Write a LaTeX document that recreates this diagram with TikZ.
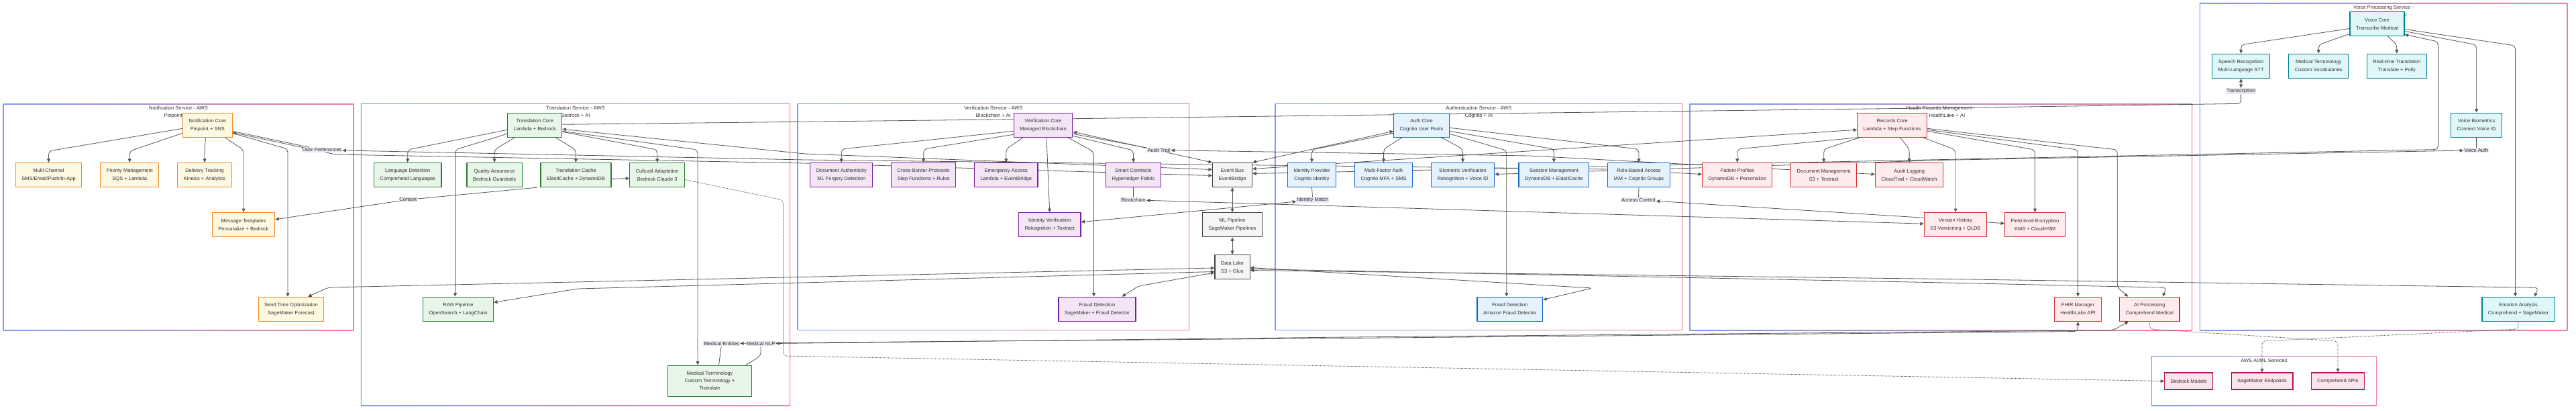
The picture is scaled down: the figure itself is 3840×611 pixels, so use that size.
\documentclass[tikz,border=0pt]{standalone}
\usepackage{fontspec}
\setmainfont{Liberation Sans}
\usepackage{tikz}
\usetikzlibrary{positioning, arrows.meta}
\definecolor{txt}{HTML}{333333}
\definecolor{edgecol}{HTML}{555555}
\definecolor{lblbg}{HTML}{E8E8F0}
\definecolor{clblue}{HTML}{7C9CF2}
\definecolor{clpink}{HTML}{F0809A}
\definecolor{notifdraw}{HTML}{F28C28}
\definecolor{notiffill}{HTML}{FFF8E1}
\definecolor{transdraw}{HTML}{2E7D32}
\definecolor{transfill}{HTML}{E8F5E9}
\definecolor{verifdraw}{HTML}{7B1FA2}
\definecolor{veriffill}{HTML}{F3E5F5}
\definecolor{shareddraw}{HTML}{424242}
\definecolor{sharedfill}{HTML}{F5F5F5}
\definecolor{authdraw}{HTML}{1565C0}
\definecolor{authfill}{HTML}{E3F2FD}
\definecolor{healthdraw}{HTML}{D32F2F}
\definecolor{healthfill}{HTML}{FFEBEE}
\definecolor{voicedraw}{HTML}{00838F}
\definecolor{voicefill}{HTML}{E0F7FA}
\definecolor{aimldraw}{HTML}{AD1457}
\definecolor{aimlfill}{HTML}{FCE4EC}
\pgfdeclarelayer{back}
\pgfdeclarelayer{edges}
\pgfsetlayers{back,edges,main}

\begin{document}
\begin{tikzpicture}[x=1pt, y=-1pt, >={Triangle[length=5.5pt,width=5pt]},
    box/.style={rectangle, draw, line width=1.2pt, align=center, text=txt,
      inner xsep=9pt, inner ysep=8pt, minimum height=36pt, font={\fontsize{7.5}{12}\selectfont}},
    notif/.style={box, draw=notifdraw, fill=notiffill},
    trans/.style={box, draw=transdraw, fill=transfill},
    verif/.style={box, draw=verifdraw, fill=veriffill},
    shared/.style={box, draw=shareddraw, fill=sharedfill},
    auth/.style={box, draw=authdraw, fill=authfill},
    health/.style={box, draw=healthdraw, fill=healthfill},
    voice/.style={box, draw=voicedraw, fill=voicefill},
    aiml/.style={box, draw=aimldraw, fill=aimlfill, minimum height=25pt},
    elabel/.style={fill=lblbg, text=txt, inner sep=1pt, font={\fontsize{7.5}{9}\selectfont}},
    ctitle/.style={align=center, text=txt, inner sep=0pt, anchor=north, font={\fontsize{7.5}{11}\selectfont}},
    flow/.style={draw=edgecol, line width=0.8pt, rounded corners=5pt, ->},
    biflow/.style={flow, <->},
    dotflow/.style={flow, dash pattern=on 1pt off 1pt}]

\begin{pgfonlayer}{back}
\fill[white] (0,0) rectangle (3840,611);
\foreach \xa/\ya/\xb/\yb in {4.6/154.3/527.5/492, 537.8/154/1178/604.3, 1188.7/154/1773/491.7,
    1900.7/154/2508/491.7, 2518.3/154.3/3268/492, 3278.9/4.3/3827.4/492, 3207/530/3542.7/604.3}{
  \shade[left color=clblue, right color=clpink] (\xa,\ya) rectangle (\xb,\yb);
  \fill[white] (\xa+1.2,\ya+1.2) rectangle (\xb-1.2,\yb-1.2);
}
\node[ctitle] (tNotif) at (266,158.1) {Notification Service - AWS\\Pinpoint + AI};
\node[ctitle] (tTrans) at (857.9,157.8) {Translation Service - AWS\\Bedrock + AI};
\node[ctitle] (tVerif) at (1480.9,157.8) {Verification Service - AWS\\Blockchain + AI};
\node[ctitle] (tAuth) at (2204.4,157.8) {Authentication Service - AWS\\Cognito + AI};
\node[ctitle] (tHealth) at (2893,158.1) {Health Records Management -\\AWS HealthLake + AI};
\node[ctitle] (tVoice) at (3553,8.1) {Voice Processing Service -\\AWS Transcribe + AI};
\node[ctitle] (tAiml) at (3374.9,533.8) {AWS AI/ML Services};
\end{pgfonlayer}

\node[notif] (nc) at (309.4,186.3) {Notification Core\\Pinpoint + SNS};
\node[notif] (mc) at (72.5,260.5) {Multi-Channel\\SMS/Email/Push/In-App};
\node[notif, right=26.7pt of mc] (pm) {Priority Management\\SQS + Lambda};
\node[notif, right=26.7pt of pm] (dt) {Delivery Tracking\\Kinesis + Analytics};
\node[notif] (mt) at (363,334.7) {Message Templates\\Personalize + Bedrock};
\node[notif] (st) at (434,460.3) {Send Time Optimization\\SageMaker Forecast};

\node[trans] (tc) at (797.2,186.3) {Translation Core\\Lambda + Bedrock};
\node[trans] (ld) at (607.7,260.5) {Language Detection\\Comprehend Languages};
\node[trans] (qa) at (737,260.5) {Quality Assurance\\Bedrock Guardrails};
\node[trans, right=26.7pt of qa] (cache) {Translation Cache\\ElastiCache + DynamoDB};
\node[trans, right=26.7pt of cache] (ca) {Cultural Adaptation\\Bedrock Claude 3};
\node[trans] (rag) at (683,460.3) {RAG Pipeline\\OpenSearch + LangChain};
\node[trans, minimum width=125.6pt, inner ysep=9.3pt, font={\fontsize{7.5}{11}\selectfont}] (mtm) at (1058,567.2) {Medical Terminology\\Custom Terminology +\\Translate};

\node[verif] (vc) at (1555,186.3) {Verification Core\\Managed Blockchain};
\node[verif] (da) at (1254.3,260.5) {Document Authenticity\\ML Forgery Detection};
\node[verif, right=26.7pt of da] (cb) {Cross-Border Protocols\\Step Functions + Rules};
\node[verif, right=26.7pt of cb] (ea) {Emergency Access\\Lambda + EventBridge};
\node[verif] (sc) at (1689.5,260.5) {Smart Contracts\\Hyperledger Fabric};
\node[verif] (iv) at (1564.7,334.7) {Identity Verification\\Rekognition + Textract};
\node[verif] (fdv) at (1635.5,460.3) {Fraud Detection\\SageMaker + Fraud Detector};

\node[shared] (eb) at (1837,260.5) {Event Bus\\EventBridge};
\node[shared] (ml) at (1837,334.7) {ML Pipeline\\SageMaker Pipelines};
\node[shared] (dl) at (1837,397.5) {Data Lake\\S3 + Glue};

\node[auth] (ac) at (2119,186.3) {Auth Core\\Cognito User Pools};
\node[auth] (idp) at (1955.5,260.5) {Identity Provider\\Cognito Identity};
\node[auth, right=26.7pt of idp] (mfa) {Multi-Factor Auth\\Cognito MFA + SMS};
\node[auth, right=26.7pt of mfa] (bio) {Biometric Verification\\Rekognition + Voice ID};
\node[auth] (sm) at (2316.4,260.5) {Session Management\\DynamoDB + ElastiCache};
\node[auth, right=26.7pt of sm] (rbac) {Role-Based Access\\IAM + Cognito Groups};
\node[auth] (fda) at (2250.8,460.3) {Fraud Detection\\Amazon Fraud Detector};

\node[health] (rc) at (2820.7,186.3) {Records Core\\Lambda + Step Functions};
\node[health] (pp) at (2589.7,260.5) {Patient Profiles\\DynamoDB + Personalize};
\node[health, right=26.7pt of pp] (dm) {Document Management\\S3 + Textract};
\node[health, right=26.7pt of dm] (al) {Audit Logging\\CloudTrail + CloudWatch};
\node[health] (vh) at (2915,334.7) {Version History\\S3 Versioning + QLDB};
\node[health] (fe) at (3033.5,334.7) {Field-level Encryption\\KMS + CloudHSM};
\node[health] (fhir) at (3097.5,460.3) {FHIR Manager\\HealthLake API};
\node[health] (aip) at (3204.3,460.3) {AI Processing\\Comprehend Medical};

\node[voice] (vo) at (3543.5,35.5) {Voice Core\\Transcribe Medical};
\node[voice] (sr) at (3340.6,98.3) {Speech Recognition\\Multi-Language STT};
\node[voice, right=27pt of sr] (mv) {Medical Terminology\\Custom Vocabularies};
\node[voice, right=26.5pt of mv] (rt) {Real-time Translation\\Translate + Polly};
\node[voice] (vb) at (3691.6,186.3) {Voice Biometrics\\Connect Voice ID};
\node[voice] (emo) at (3754,460.3) {Emotion Analysis\\Comprehend + SageMaker};

\node[aiml] (bm) at (3262.7,567.5) {Bedrock Models};
\node[aiml, right=26.3pt of bm] (sme) {SageMaker Endpoints};
\node[aiml, right=26.3pt of sme] (cap) {Comprehend APIs};

\node[elabel] (lUP) at (480,223.3) {User Preferences};
\node[elabel] (lCtx) at (608.4,297.3) {Context};
\node[elabel] (lAT) at (1727.4,223.5) {Audit Trail};
\node[elabel] (lBC) at (1689.5,297.7) {Blockchain};
\node[elabel] (lIM) at (1956.8,297.7) {Identity Match};
\node[elabel] (lAC) at (2442.4,297.7) {Access Control};
\node[elabel] (lME) at (1075.7,511.7) {Medical Entities};
\node[elabel] (lNLP) at (1134,511.7) {Medical NLP};
\node[elabel] (lTr) at (3340.6,135.7) {Transcription};
\node[elabel] (lVA) at (3691.3,223.7) {Voice Auth};

\begin{pgfonlayer}{edges}
\draw[flow] ([yshift=-5pt]nc.west) -- (mc.north |- 0,225) -- (mc.north);
\draw[flow] ([yshift=-12pt]nc.west) -- (pm.north |- 0,225) -- (pm.north);
\draw[flow] ([xshift=-3pt]nc.south) -- (dt.north |- 0,225) -- (dt.north);
\draw[flow] ([xshift=26pt]nc.south) -- (mt.north |- 0,223) -- (mt.north);
\draw[flow] ([yshift=-12pt]nc.east) -- ([xshift=-5pt]st.north |- 0,222) -- ([xshift=-5pt]st.north);
\draw[biflow] ([yshift=-9pt]nc.east) -- (lUP) -- (1200,238) -- (2400,252) -- ([yshift=1pt]pp.west);
\draw[biflow] ([yshift=-11pt]nc.east) -- (500,230) -- (1200,243) -- ([yshift=-1pt]eb.west);

\draw[flow] ([yshift=-7pt]tc.west) -- (ld.north |- 0,223) -- (ld.north);
\draw[flow] ([xshift=-30pt]tc.south) -- (qa.north |- 0,223) -- (qa.north);
\draw[flow] ([xshift=31pt]tc.south) -- (cache.north |- 0,223) -- (cache.north);
\draw[flow] ([yshift=-10pt]tc.east) -- (ca.north |- 0,223) -- (ca.north);
\draw[flow] ([yshift=-13pt]tc.west) -- ([xshift=-4.5pt]rag.north |- 0,223) -- ([xshift=-4.5pt]rag.north);
\draw[flow] ([yshift=-9pt]tc.east) -- ([xshift=-18pt]mtm.north |- 0,223) -- ([xshift=-18pt]mtm.north);
\draw[flow] ([yshift=-6pt]cache.east) -- ([yshift=-5pt]ca.west);
\draw[flow] ([xshift=-4pt]cache.south west) -- (lCtx) -- ([yshift=8pt]mt.east);
\draw[dotflow] ([yshift=-7pt]ca.east) -- (1167.6,298) -- (1167.6,530) -- (bm.west);
\draw[biflow] ([yshift=-6pt]tc.east) -- (1200,229) -- ([yshift=8pt]eb.west);
\draw[biflow] ([yshift=1pt]tc.east) -- (1600,176.7) -- (2950,160) -- (sr.south |- 0,154.3) -- (lTr) -- (sr.south);

\draw[flow] ([yshift=-9pt]vc.west) -- (da.north |- 0,222) -- (da.north);
\draw[flow] ([yshift=-14pt]vc.west) -- (cb.north |- 0,222) -- (cb.north);
\draw[flow] ([xshift=-30pt]vc.south) -- (ea.north |- 0,222) -- (ea.north);
\draw[flow] ([yshift=-16pt]vc.east) -- (sc.north |- 0,224) -- (sc.north);
\draw[flow] ([xshift=5pt]vc.south) -- (iv.north);
\draw[flow] ([xshift=37pt]vc.south) -- ([xshift=-5pt]fdv.north |- 0,226) -- ([xshift=-5pt]fdv.north);
\draw[biflow] ([yshift=-10pt]vc.east) -- (eb.north west);
\draw[biflow] ([yshift=-13pt]vc.east) -- (lAT) -- (2280,232) -- ([yshift=1pt]al.west);

\draw[flow] ([yshift=-12pt]ac.west) -- (idp.north |- 0,223) -- (idp.north);
\draw[flow] ([xshift=-29pt]ac.south) -- (mfa.north |- 0,222) -- (mfa.north);
\draw[flow] ([xshift=30pt]ac.south) -- (bio.north |- 0,222) -- (bio.north);
\draw[flow] ([yshift=-9pt]ac.east) -- (sm.north |- 0,222) -- (sm.north);
\draw[flow] ([yshift=-4pt]ac.east) -- (rbac.north |- 0,222) -- (rbac.north);
\draw[flow] ([yshift=-13pt]ac.east) -- ([xshift=-5pt]fda.north |- 0,224) -- ([xshift=-5pt]fda.north);
\draw[biflow] ([yshift=-9pt]ac.west) -- (eb.north east);
\draw[biflow] (idp.south) -- (lIM) -- ([yshift=4pt]iv.east);
\draw[biflow] (sc.south) -- (lBC) -- ([yshift=1.5pt]vh.west);
\draw[biflow] (rbac.south) -- (lAC) -- (2868,324.3) -- ([yshift=2pt]fe.west);

\draw[flow] (rc.south west) -- (pp.north |- 0,222) -- (pp.north);
\draw[flow] ([xshift=4pt]rc.south west) -- (dm.north |- 0,222) -- (dm.north);
\draw[flow] ([xshift=12pt]rc.south) -- (al.north |- 0,222) -- (al.north);
\draw[flow] ([xshift=46pt]rc.south) -- (vh.north |- 0,223) -- (vh.north);
\draw[flow] ([yshift=-9pt]rc.east) -- (fe.north |- 0,223) -- (fe.north);
\draw[flow] ([yshift=-7pt]rc.east) -- (fhir.north |- 0,223) -- (fhir.north);
\draw[flow] ([yshift=-5pt]rc.east) -- ([xshift=-48pt]aip.north |- 0,223) -- ([xshift=-48pt]aip.north |- 0,428) -- ([xshift=-32pt]aip.north);
\draw[biflow] ([yshift=-7pt]rc.west) -- ([yshift=9pt]eb.east);

\draw[flow] ([yshift=-7pt]vo.west) -- (sr.north |- 0,66.7) -- (sr.north);
\draw[flow] ([yshift=-15pt]vo.west) -- (mv.north |- 0,66.7) -- (mv.north);
\draw[flow] ([xshift=16pt]vo.south) -- (rt.north |- 0,66.7) -- (rt.north);
\draw[flow] ([yshift=-11pt]vo.east) -- (vb.north |- 0,66.7) -- (vb.north);
\draw[flow] ([yshift=-8pt]vo.east) -- ([xshift=-4.5pt]emo.north |- 0,68) -- ([xshift=-4.5pt]emo.north);
\draw[biflow] ([yshift=-16pt]vo.east) -- (3634.4,62) -- (3634.4,222.5) -- ([yshift=2pt]eb.east);
\draw[biflow] (vb.south) -- (lVA) -- (2900,238.3) -- ([yshift=1pt]bio.east);

\draw[biflow] ([xshift=53.5pt]mtm.north) -- (1134,530) -- (lNLP) -- (1980,502.3) -- (3150,491.7) -- ([xshift=-31.5pt]aip.south);
\draw[biflow] ([xshift=13.5pt]mtm.north) -- (lME) -- (1160,510.5) -- (1980,503.8) -- (3097.5,493.5) -- (fhir.south);

\draw[biflow] (eb) -- (ml);
\draw[biflow] (ml) -- (dl);
\draw[biflow] ([yshift=-1.5pt]dl.west) -- (490,428) -- ([xshift=25pt]st.north);
\draw[biflow] ([yshift=-7pt]dl.west) -- (861,430) -- ([yshift=10pt]rag.east);
\draw[biflow] ([yshift=-8.5pt]dl.west) -- (1697,426) -- ([xshift=37pt]fdv.north);
\draw[biflow] ([yshift=-1pt]dl.east) -- (2374,429) -- ([yshift=14pt]fda.east);
\draw[biflow] ([yshift=-3pt]dl.east) -- (2900,421) -- (3229.7,428.3) -- ([xshift=19.5pt]aip.north);
\draw[biflow] ([yshift=-5pt]dl.east) -- (2900,415.5) -- (3784,428.3) -- ([xshift=24pt]emo.north);

\draw[dotflow] (aip.south) -- (aip.south |- 0,490) -- (cap.north |- 0,508) -- (cap.north);
\draw[dotflow] (emo.south) -- (emo.south |- 0,490) -- (sme.north |- 0,508) -- (sme.north);
\end{pgfonlayer}

\useasboundingbox (0,0) rectangle (3840,611);
\end{tikzpicture}
\end{document}
